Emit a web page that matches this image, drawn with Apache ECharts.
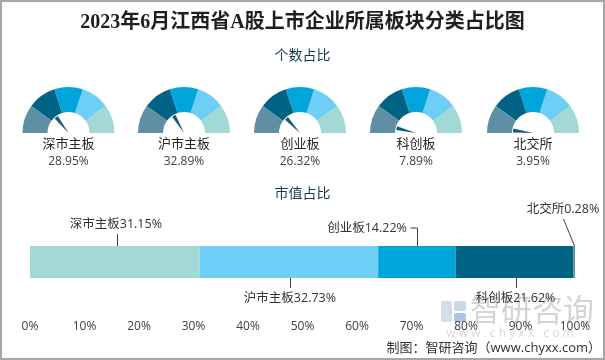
<!DOCTYPE html>
<html><head><meta charset="utf-8">
<script src="https://cdn.jsdelivr.net/npm/echarts@6/dist/echarts.min.js"></script>
<style>html,body{margin:0;padding:0;background:#fff}#c{width:605px;height:360px}</style>
</head><body><div id="c"></div>
<script>
// ---- data ----
const gaugeNames = ['深市主板', '沪市主板', '创业板', '科创板', '北交所'];
const countShare = [28.95, 32.89, 26.32, 7.89, 3.95];
const valueNames = ['深市主板', '沪市主板', '创业板', '科创板', '北交所'];
const valueShare = [31.15, 32.73, 14.22, 21.62, 0.28];
const axisMin = 0, axisMax = 100, axisStep = 10;

// ---- styles ----
const FONT = '"Microsoft YaHei","Open Sans","Noto Sans CJK SC",sans-serif';
const ringColors = ['#5f8fa5', '#006285', '#00a5dc', '#6dcff6', '#a2d8d6'];
const barColors = ['#a2d8d6', '#6dcff6', '#00a5dc', '#006285', '#5f8fa5'];
const gaugeX = [68.5, 184, 300, 416, 533];
const gaugeY = 133;

const chart = echarts.init(document.getElementById('c'), null, {renderer: 'canvas'});

const gauges = gaugeNames.map((n, i) => ({
  type: 'gauge',
  center: [gaugeX[i], gaugeY],
  radius: 46,
  startAngle: 180, endAngle: 0,
  min: 0, max: 100,
  axisLine: {lineStyle: {width: 25, color: ringColors.map((c, k) => [(k + 1) / ringColors.length, c])}},
  splitLine: {show: false}, axisTick: {show: false}, axisLabel: {show: false},
  progress: {show: false},
  anchor: {show: false},
  pointer: {icon: 'path://M0 0L10 0L5 100Z', length: 20, width: 4, offsetCenter: [0, 0],
            itemStyle: {color: '#165a78'}},
  title: {offsetCenter: [0, 11], fontSize: 13, color: '#262626', fontFamily: FONT},
  detail: {offsetCenter: [0, 29], fontSize: 12, fontWeight: 'normal', color: '#404040', fontFamily: FONT,
           formatter: v => v.toFixed(2) + '%'},
  data: [{value: countShare[i], name: n}]
}));

function layoutFor(idx) {
  return function (p) {
    const r = p.rect, cx = r.x + r.width / 2, top = r.y, bot = r.y + r.height;
    switch (idx) {
      case 0: return {x: cx + 1, y: top - 22, align: 'center', verticalAlign: 'middle'};
      case 1: return {x: cx + 1, y: bot + 20, align: 'center', verticalAlign: 'middle'};
      case 2: return {x: cx - 10, y: top - 18, align: 'right', verticalAlign: 'middle'};
      case 3: return {x: cx + 1, y: bot + 20, align: 'center', verticalAlign: 'middle'};
      case 4: return {x: cx + 25, y: top - 37, align: 'right', verticalAlign: 'middle'};
    }
  };
}

const bars = valueNames.map((n, i) => ({
  type: 'bar', name: n, stack: 'total',
  data: [valueShare[i]],
  barWidth: 32,
  itemStyle: {color: barColors[i]},
  label: {show: true, position: 'top', formatter: '{a}{c}%', fontSize: 12.5, color: '#333', fontFamily: FONT},
  labelLayout: layoutFor(i)
}));

const staticGraphics = [
  {type: 'rect', z: 100, silent: true, shape: {x: 1, y: 1, width: 603, height: 358},
   style: {fill: 'none', stroke: '#a6a6a6', lineWidth: 2}},
  {type: 'text', style: {text: '2023年6月江西省A股上市企业所属板块分类占比图', x: 302.5, y: 23,
    textAlign: 'center', textVerticalAlign: 'middle',
    font: 'bold 20px "Liberation Serif","Noto Sans CJK SC",serif', fill: '#1f1f1f'}},
  {type: 'text', style: {text: '个数占比', x: 302.5, y: 56, textAlign: 'center', textVerticalAlign: 'middle',
    font: '14px ' + FONT, fill: '#17394d'}},
  {type: 'text', style: {text: '市值占比', x: 302.5, y: 194, textAlign: 'center', textVerticalAlign: 'middle',
    font: '14px ' + FONT, fill: '#17394d'}},
  // watermark
  {type: 'rect', z: -10, shape: {x: 441, y: 301, width: 11, height: 21, r: 2}, style: {fill: '#d5dde8'}},
  {type: 'rect', z: -10, shape: {x: 454, y: 301, width: 12, height: 10, r: 2}, style: {fill: '#c9d9ea'}},
  {type: 'rect', z: -10, shape: {x: 454, y: 313, width: 12, height: 9, r: 2}, style: {fill: '#a9c6e6'}},
  {type: 'text', z: -10, style: {text: '智研咨询', x: 532, y: 312, textAlign: 'center', textVerticalAlign: 'middle',
    font: '31px ' + FONT, fill: '#d4d4d4'}},
  {type: 'text', z: -10, style: {text: 'w w w . c h y x x . c o m', x: 510, y: 334, textAlign: 'center', textVerticalAlign: 'middle',
    font: '12px ' + FONT, fill: '#d8d8d8'}},
  {type: 'text', style: {text: '制图：智研咨询（www.chyxx.com）', x: 601, y: 348, textAlign: 'right', textVerticalAlign: 'middle',
    font: '13px ' + FONT, fill: '#333'}}
];

chart.setOption({
  animation: false,
  textStyle: {fontFamily: FONT},
  grid: {left: 30, right: 30, top: 246, height: 32, containLabel: false},
  xAxis: {
    type: 'value', min: axisMin, max: axisMax, interval: axisStep,
    axisLine: {show: false}, axisTick: {show: false}, splitLine: {show: false},
    axisLabel: {formatter: '{value}%', margin: 43, fontSize: 12, color: '#404040', fontFamily: FONT}
  },
  yAxis: {type: 'category', data: ['市值'], show: false},
  graphic: staticGraphics,
  series: gauges.concat(bars)
});

// leader lines, positioned through the chart's own scale
const cat = '市值';
let acc = 0;
const seg = valueShare.map(v => { const s = acc; acc += v; return [s, acc]; });
const px = v => chart.convertToPixel({gridIndex: 0}, [v, cat]);
const topY = px(0)[1] - 16, botY = px(0)[1] + 16;
const lines = seg.map((s, i) => {
  const cx = px((s[0] + s[1]) / 2)[0];
  let pts;
  switch (i) {
    case 0: pts = [[cx + 2, topY - 12], [cx + 2, topY]]; break;
    case 1: pts = [[cx + 1, botY], [cx + 1, botY + 10]]; break;
    case 2: pts = [[cx - 7, topY - 18], [cx, topY - 18], [cx, topY]]; break;
    case 3: pts = [[cx + 1, botY], [cx + 1, botY + 10]]; break;
    case 4: pts = [[cx - 11, topY - 27], [cx, topY]]; break;
  }
  return {type: 'polyline', silent: true, shape: {points: pts.map(p => [Math.round(p[0]) + 0.5, p[1]])},
          style: {stroke: '#404040', lineWidth: 1, fill: 'none'}};
});
chart.setOption({graphic: staticGraphics.concat(lines)});
</script></body></html>
